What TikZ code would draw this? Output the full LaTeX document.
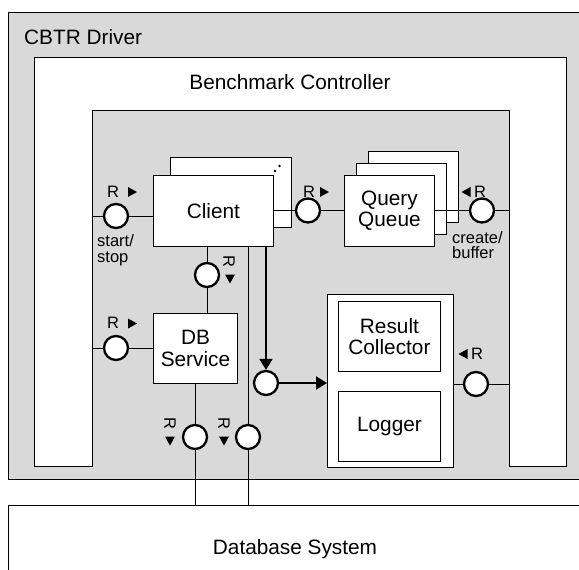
\documentclass[tikz,border=0pt]{standalone}
\usepackage{fontspec}
\setmainfont{Liberation Sans}
\usetikzlibrary{arrows.meta}
\definecolor{panel}{RGB}{217,217,217}
\begin{document}
\begin{tikzpicture}[x=1pt,y=-1pt,
  frame/.style={draw=black, line width=0.9pt},
  box/.style={draw=black, fill=white, line width=0.9pt, anchor=north west,
    inner sep=0pt, align=center, font=\fontsize{20.8}{21.5}\selectfont},
  port/.style={circle, draw=black, fill=white, line width=2.3pt,
    minimum size=24pt, inner sep=0pt},
  wire/.style={line width=0.9pt},
  flow/.style={line width=2pt, -{Triangle[length=11pt,width=13pt]}},
  big/.style={font=\fontsize{20.8}{21.5}\selectfont, align=center, inner sep=0pt},
  small/.style={font=\fontsize{16.5}{15.5}\selectfont, inner sep=0pt},
  rotR/.style={small, rotate=-90},
  rtri/.pic={\fill (-4.5,-5) -- (4.5,0) -- (-4.5,5) -- cycle;},
  ltri/.pic={\fill (4.5,-5) -- (-4.5,0) -- (4.5,5) -- cycle;},
  dtri/.pic={\fill (-5,-4.5) -- (5,-4.5) -- (0,4.5) -- cycle;},
]
\useasboundingbox (0,0) rectangle (579,570);
\clip (0,0) rectangle (579,570);

% CBTR driver panel
\draw[frame, fill=panel] (8,12) rectangle (640,479);
\node[big, anchor=west] (drv) at (24,37) {CBTR Driver};

% Benchmark controller: white frame around the inner area
\draw[frame, fill=white] (34,466) -- (34,57) -- (566,57) -- (566,466)
  -- (509,466) -- (509,110) -- (92,110) -- (92,466) -- cycle;
\node[big] (bc) at (290,82) {Benchmark Controller};
\coordinate (legL) at (92,0);
\coordinate (legR) at (509,0);

% Database system
\node[draw=black, line width=0.9pt, fill=white, anchor=north west,
  minimum width=640pt, minimum height=120pt] (dbs) at (8,505) {};
\node[big] (dbslabel) at (295,549) {Database System};

% Client (multiple instances)
\node[box, minimum width=121pt, minimum height=70pt] (clientb) at (170,157) {};
\fill (275,171) circle (1.3pt) (279.5,166) circle (1.3pt);
\node[box, minimum width=120pt, minimum height=71pt] (client) at (153,175) {Client};

% Query queue (multiple instances)
\node[box, minimum width=90pt, minimum height=71pt] (qq3) at (368,151) {};
\node[box, minimum width=90pt, minimum height=71pt] (qq2) at (356,163) {};
\node[box, minimum width=90pt, minimum height=71pt] (qq) at (344,175) {Query\\Queue};

% DB service
\node[box, minimum width=84pt, minimum height=70pt] (dbsvc) at (153,313) {DB\\Service};

% Result collector and logger
\node[box, minimum width=126pt, minimum height=173pt] (res) at (327,294) {};
\node[box, minimum width=102pt, minimum height=70pt] (rc) at (338,301) {Result\\Collector};
\node[box, minimum width=102pt, minimum height=70pt] (log) at (338,391) {Logger};

% Ports
\node[port] (c1) at (116,216) {};
\node[port] (c2) at (308,210.5) {};
\node[port] (c3) at (482,210.5) {};
\node[port] (c4) at (207,275) {};
\node[port] (c5) at (116,348) {};
\node[port] (c6) at (195,437) {};
\node[port] (c7) at (248,437) {};
\node[port] (c8) at (266,383) {};
\node[port] (c9) at (476,384) {};

% Channels
\draw[wire] (c1 -| legL) -- (c1) (c1) -- (c1 -| client.west);
\draw[wire] (client.east |- c2) -- (c2) (c2) -- (c2 -| qq.west);
\draw[wire] (qq.east |- c3) -- (c3) (c3) -- (c3 -| legR);
\draw[wire] (client.south -| c4) -- (c4) (c4) -- (c4 |- dbsvc.north);
\draw[wire] (c5 -| legL) -- (c5) (c5) -- (c5 -| dbsvc.west);
\draw[wire] (dbsvc.south -| c6) -- (c6) (c6) -- (c6 |- dbs.north);
\draw[wire] (client.south -| c7) -- (c7) (c7) -- (c7 |- dbs.north);
\draw[wire] (res.east |- c9) -- (c9) (c9) -- (c9 -| legR);
\draw[flow] (client.south -| c8) -- (c8);
\draw[flow] (c8) -- (c8 -| res.west);

% Request labels
\node[small] (r1) at (113,192) {R};  \pic at (132.5,192) {rtri};
\node[small] (r5) at (113,323) {R};  \pic at (132.5,323.5) {rtri};
\node[small] (r2) at (309,192) {R};  \pic at (324.5,192) {rtri};
\node[small] (r3) at (480,192) {R};  \pic at (466,192) {ltri};
\node[small] (r9) at (477,354) {R};  \pic at (463,354) {ltri};
\node[rotR] (r4) at (229,261) {R};   \pic at (230,279) {dtri};
\node[rotR] (r6) at (170,423) {R};   \pic at (170,441) {dtri};
\node[rotR] (r7) at (224,423) {R};   \pic at (224,441) {dtri};

\node[small, align=left, anchor=west] (ss) at (97,250) {start/\\stop};
\node[small, align=left, anchor=west] (cb) at (452,245) {create/\\buffer};
\end{tikzpicture}
\end{document}
